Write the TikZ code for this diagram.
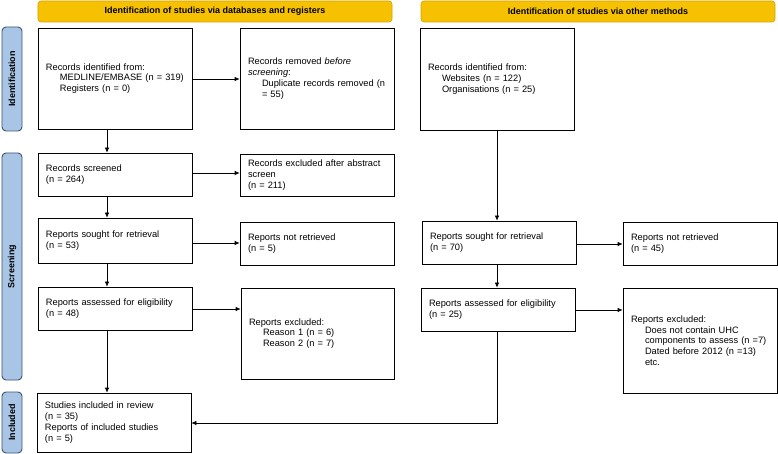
\documentclass[tikz,border=0pt]{standalone}
\usepackage{fontspec}
\setmainfont{Liberation Sans}
\usetikzlibrary{arrows.meta}
\definecolor{bannerfill}{HTML}{F6C100}
\definecolor{bannerdraw}{HTML}{D4A300}
\definecolor{sidefill}{HTML}{A9C5E6}
\definecolor{sidedraw}{HTML}{3E5470}
\tikzset{
  x=1bp, y=-1bp,
  box/.style={draw=black, line width=0.7bp, inner xsep=8bp, inner ysep=0pt, align=left,
    font=\fontsize{9.3}{10.8}\selectfont, anchor=center},
  banner/.style={draw=bannerdraw, fill=bannerfill, rounded corners=3bp, line width=0.6bp,
    minimum width=354bp, minimum height=21bp, inner sep=0pt, font=\fontsize{9}{10}\selectfont\bfseries},
  side/.style={draw=sidedraw, fill=sidefill, rounded corners=4bp, line width=0.9bp,
    minimum height=20bp, inner sep=0pt, rotate=90, font=\fontsize{9}{10}\selectfont\bfseries},
  arr/.style={-{Latex[length=5bp,width=4.5bp]}, line width=0.7bp},
}
\newcommand\ind{\hspace*{14bp}}
\begin{document}
\begin{tikzpicture}
\useasboundingbox (0,0) rectangle (778,454);
% banners
\node[banner] (b1) at (215,11.5) {Identification of studies via databases and registers};
\node[banner] (b2) at (598,11.5) {Identification of studies via other methods};
% side bars
\node[side, minimum width=104bp] (s1) at (12,79) {Identification};
\node[side, minimum width=227bp] (s2) at (12,266.5) {Screening};
\node[side, minimum width=61bp] (s3) at (12,422.5) {Included};
% left column
\node[box, text width=138bp, minimum height=101bp] (A) at (115,78.5)
  {Records identified from:\\ \ind MEDLINE/EMBASE (n = 319)\\ \ind Registers (n = 0)};
\node[box, text width=138bp, minimum height=101bp] (B) at (317,78.5)
  {Records removed \emph{before}\\ \emph{screening}:\\ \ind Duplicate records removed (n\\ \ind = 55)\\[4bp]};
\node[box, text width=138bp, minimum height=43bp] (C) at (115,174.5)
  {Records screened\\ (n = 264)};
\node[box, text width=138bp, minimum height=42bp] (D) at (317,175)
  {Records excluded after abstract\\ screen\\ (n = 211)};
\node[box, text width=138bp, minimum height=45bp] (E) at (115,240.5)
  {Reports sought for retrieval\\ (n = 53)\\[2bp]};
\node[box, text width=138bp, minimum height=43bp] (F) at (317,243.5)
  {Reports not retrieved\\ (n = 5)\\[3bp]};
\node[box, text width=138bp, minimum height=43bp] (G) at (115,308.5)
  {Reports assessed for eligibility\\ (n = 48)\\[3bp]};
\node[box, text width=137bp, minimum height=91bp] (H) at (317.5,333.5)
  {Reports excluded:\\ \ind Reason 1 (n = 6)\\ \ind Reason 2 (n = 7)\\[8bp]};
\node[box, text width=138bp, minimum height=59bp] (I) at (114,422.5)
  {Studies included in review\\ (n = 35)\\ Reports of included studies\\ (n = 5)};
% right column
\node[box, text width=138bp, minimum height=102bp] (J) at (497,79)
  {Records identified from:\\ \ind Websites (n = 122)\\ \ind Organisations (n = 25)\\[4bp]};
\node[box, text width=138bp, minimum height=43bp] (K) at (499,242.5)
  {Reports sought for retrieval\\ (n = 70)\\[3bp]};
\node[box, text width=138bp, minimum height=43bp] (L) at (700,243.5)
  {Reports not retrieved\\ (n = 45)\\[3bp]};
\node[box, text width=138bp, minimum height=43bp] (M) at (498,309.5)
  {Reports assessed for eligibility\\ (n = 25)\\[3bp]};
\node[box, text width=138bp, minimum height=105bp] (N) at (700,340.5)
  {Reports excluded:\\ \ind Does not contain UHC\\ \ind components to assess (n =7)\\ \ind Dated before 2012 (n =13)\\ \ind etc.};
% arrows left column
\draw[arr] (A.east |- 0,79) -- (B.west |- 0,79);
\draw[arr] (A.south -| 107,0) -- (C.north -| 107,0);
\draw[arr] (C.east |- 0,173) -- (D.west |- 0,173);
\draw[arr] (C.south -| 107,0) -- (E.north -| 107,0);
\draw[arr] (E.east |- 0,243) -- (F.west |- 0,243);
\draw[arr] (E.south -| 107,0) -- (G.north -| 107,0);
\draw[arr] (G.east |- 0,309) -- (H.west |- 0,309);
\draw[arr] (G.south -| 107,0) -- (I.north -| 107,0);
% arrows right column
\draw[arr] (J.south -| 497,0) -- (K.north -| 497,0);
\draw[arr] (K.east |- 0,244) -- (L.west |- 0,244);
\draw[arr] (K.south -| 497,0) -- (M.north -| 497,0);
\draw[arr] (M.east |- 0,310) -- (N.west |- 0,310);
\draw[arr] (M.south -| 497,0) |- (I.east |- 0,423);
\end{tikzpicture}
\end{document}
